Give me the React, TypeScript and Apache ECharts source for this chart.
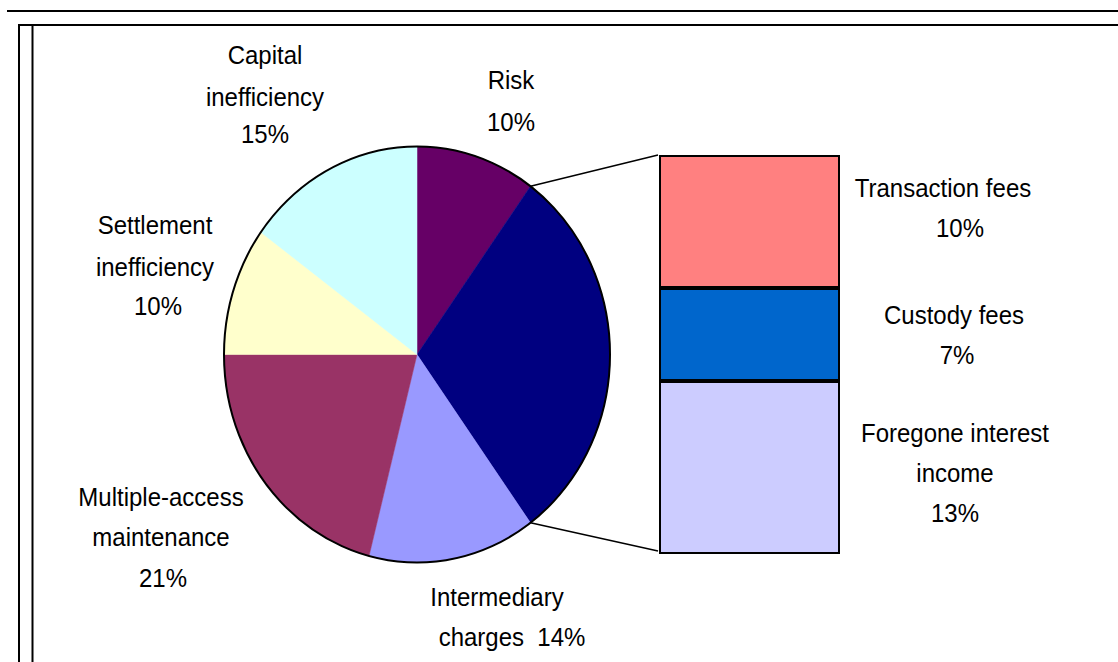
import React, { useEffect, useRef } from "react";
import * as echarts from "echarts";

// ---- data ----
const pieNames = [
  "Risk",
  "Other",
  "Intermediary charges",
  "Multiple-access maintenance",
  "Settlement inefficiency",
  "Capital inefficiency",
];
const pieValues = [10, 30, 14, 21, 10, 15];
const pieColors = ["#660066", "#000080", "#9999FF", "#993366", "#FFFFCC", "#CCFFFF"];

const barNames = ["Transaction fees", "Custody fees", "Foregone interest income"];
const barValues = [10, 7, 13];
const barColors = ["#FF8080", "#0066CC", "#CCCCFF"];
const barCategory = ["Other"];

// wrapped label lines (text)
const pieLabelLines: (string[] | null)[] = [
  ["Risk", "10%"],
  null,
  ["Intermediary", "charges  14%"],
  ["Multiple-access", "maintenance", "21%"],
  ["Settlement", "inefficiency", "10%"],
  ["Capital", "inefficiency", "15%"],
];
const barLabelLines: string[][] = [
  ["Transaction fees", "10%"],
  ["Custody fees", "7%"],
  ["Foregone interest", "income", "13%"],
];

// ---- layout (positions only) ----
const PIE = { cx: 417, cy: 354.5, rx: 193, ry: 208 };
const GRID = { left: 659, top: 155, width: 181, height: 399 };
const pieLabelPos: ([number, number][] | null)[] = [
  [[511, 80], [511, 122]],
  null,
  [[497, 597], [512, 637]],
  [[161, 497], [161, 537], [163, 578]],
  [[155, 225], [155, 267], [158, 306]],
  [[265, 55], [265, 97], [265, 134]],
];
const barLabelPos: [number, number][][] = [
  [[943, 188], [960, 228]],
  [[954, 315], [957, 355]],
  [[955, 433], [955, 473], [955, 513]],
];

const FONT = "'Liberation Sans', Arial, sans-serif";

export default function App() {
  const ref = useRef<HTMLDivElement>(null);
  useEffect(() => {
    if (!ref.current) return;
    const chart = echarts.init(ref.current, null, { renderer: "svg" });
    const total = pieValues.reduce((a, b) => a + b, 0);
    const cum: number[] = [];
    let acc = 0;
    pieValues.forEach((v) => {
      cum.push(acc);
      acc += v;
    });
    const pt = (f: number) => [
      PIE.cx + PIE.rx * Math.sin(2 * Math.PI * f),
      PIE.cy - PIE.ry * Math.cos(2 * Math.PI * f),
    ];
    const otherStart = cum[1] / total;
    const otherEnd = (cum[1] + pieValues[1]) / total;
    const p1 = pt(otherStart);
    const p2 = pt(otherEnd);

    const texts: any[] = [];
    const addText = (t: string, x: number, y: number) =>
      texts.push({
        type: "text",
        x,
        y,
        z: 100,
        scaleY: 1.05,
        style: {
          text: t,
          fontSize: 24,
          fontFamily: FONT,
          fill: "#000",
          align: "center",
          verticalAlign: "middle",
        },
      });
    pieLabelLines.forEach((lines, i) => {
      if (!lines) return;
      lines.forEach((t, j) => addText(t, pieLabelPos[i]![j][0], pieLabelPos[i]![j][1]));
    });
    barLabelLines.forEach((lines, i) => {
      lines.forEach((t, j) => addText(t, barLabelPos[i][j][0], barLabelPos[i][j][1]));
    });

    const frame = [
      [7, 11, 1118, 11],
      [18, 25, 1118, 25],
      [19, 25, 19, 662],
      [32.5, 25, 32.5, 662],
    ].map((l) => ({
      type: "line",
      z: 100,
      shape: { x1: l[0], y1: l[1], x2: l[2], y2: l[3] },
      style: { stroke: "#000", lineWidth: 2 },
    }));

    const barBottom = [...barValues.keys()].reverse();

    chart.setOption({
      animation: false,
      grid: { left: GRID.left, top: GRID.top, width: GRID.width, height: GRID.height },
      xAxis: { type: "category", data: barCategory, show: false },
      yAxis: { type: "value", min: 0, max: barValues.reduce((a, b) => a + b, 0), show: false },
      series: [
        {
          type: "custom",
          coordinateSystem: "none",
          data: pieValues.map((v, i) => ({ value: [v], name: pieNames[i] })),
          renderItem: (params: any, api: any) => {
            const i = params.dataIndex;
            const s = cum[i] / total;
            const e = (cum[i] + api.value(0)) / total;
            return {
              type: "sector",
              x: PIE.cx,
              y: PIE.cy,
              scaleY: PIE.ry / PIE.rx,
              shape: {
                cx: 0,
                cy: 0,
                r0: 0,
                r: PIE.rx,
                startAngle: -Math.PI / 2 + 2 * Math.PI * s,
                endAngle: -Math.PI / 2 + 2 * Math.PI * e,
                clockwise: true,
              },
              style: { fill: pieColors[i], stroke: pieColors[i], lineWidth: 0.5 },
            };
          },
        },
        ...barBottom.map((i) => ({
          type: "bar",
          name: barNames[i],
          stack: "other",
          barWidth: "100%",
          data: [barValues[i]],
          itemStyle: { color: barColors[i], borderColor: "#000", borderWidth: 2 },
        })),
      ],
      graphic: [
        {
          type: "ellipse",
          z: 90,
          shape: { cx: PIE.cx, cy: PIE.cy, rx: PIE.rx, ry: PIE.ry },
          style: { fill: "none", stroke: "#000", lineWidth: 2 },
        },
        {
          type: "line",
          z: 90,
          shape: { x1: p1[0], y1: p1[1], x2: GRID.left - 1, y2: GRID.top },
          style: { stroke: "#000", lineWidth: 1.5 },
        },
        {
          type: "line",
          z: 90,
          shape: { x1: p2[0], y1: p2[1], x2: GRID.left - 1, y2: GRID.top + GRID.height - 3 },
          style: { stroke: "#000", lineWidth: 1.5 },
        },
        ...frame,
        ...texts,
      ],
    });
    return () => chart.dispose();
  }, []);
  return (
    <div
      ref={ref}
      style={{ position: "fixed", left: 0, top: 0, width: 1118, height: 662, background: "#fff" }}
    />
  );
}
